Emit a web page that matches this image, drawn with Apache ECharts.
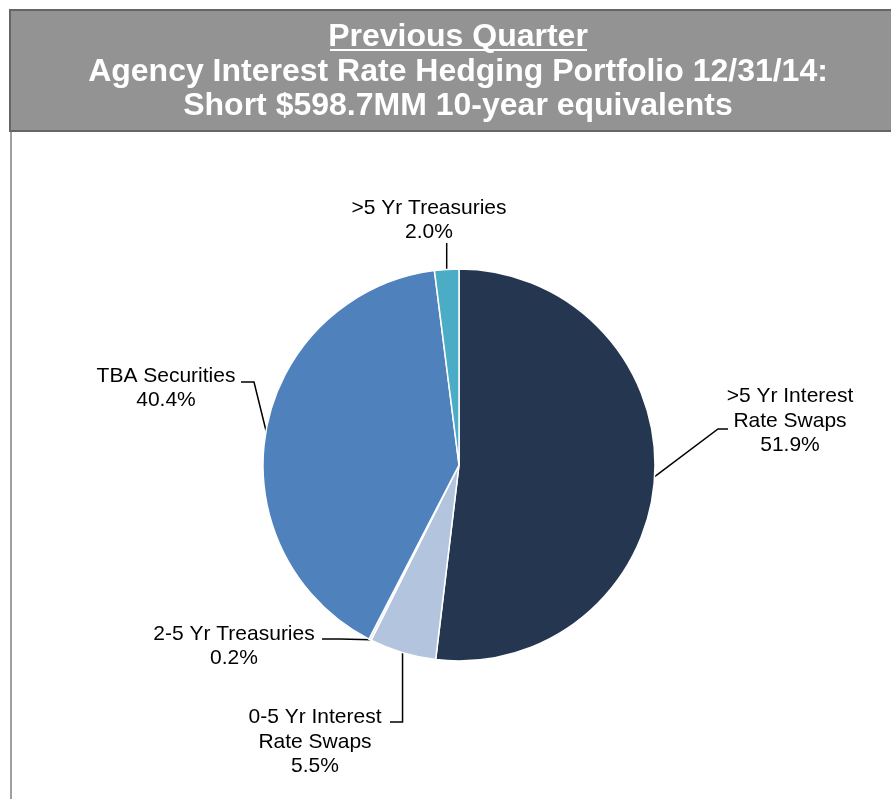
<!DOCTYPE html>
<html>
<head>
<meta charset="utf-8">
<script src="https://cdn.jsdelivr.net/npm/echarts@6/dist/echarts.min.js"></script>
<style>
html,body{margin:0;padding:0;background:#fff;}
#chart{width:891px;height:799px;}
</style>
</head>
<body>
<div id="chart"></div>
<script>
// ---- data ----
const categories = [
  '>5 Yr Interest\nRate Swaps',
  '0-5 Yr Interest\nRate Swaps',
  '2-5 Yr Treasuries',
  'TBA Securities',
  '>5 Yr Treasuries'
];
const values = [51.9, 5.5, 0.2, 40.4, 2.0];
const titleLines = [
  'Previous Quarter',
  'Agency Interest Rate Hedging Portfolio 12/31/14:',
  'Short $598.7MM 10-year equivalents'
];

// ---- styles ----
const colors = ['#253650', '#b3c5de', '#d6e0ee', '#4f81bd', '#4bacc6'];
// label placement (text centre, line bend point, line end point); vertical: bend shares the start x
const labelPlaces = [
  { x: 790, y: 421, bend: [718, 429], end: [728, 429] },
  { x: 315, y: 742, bend: [null, 722], end: [390, 722] },
  { x: 234, y: 646, bend: [340, 639], end: [322, 639] },
  { x: 166, y: 388, bend: [254, 382], end: [241, 382] },
  { x: 429, y: 220, bend: [null, 256], end: [null, 243] }
];

const chart = echarts.init(document.getElementById('chart'), null, { renderer: 'canvas' });

const option = {
  animation: false,
  backgroundColor: '#ffffff',
  graphic: [
    {
      type: 'rect', z: 1,
      shape: { x: 10, y: 10, width: 900, height: 121 },
      style: { fill: '#939393', stroke: '#666666', lineWidth: 2 }
    },
    {
      type: 'line', z: 1,
      shape: { x1: 11, y1: 132, x2: 11, y2: 799 },
      style: { stroke: '#a0a0a0', lineWidth: 2 }
    },
    {
      type: 'text', z: 2,
      style: {
        x: 458, y: 20,
        text: titleLines.join('\n'),
        fill: '#ffffff',
        font: 'bold 32px "Liberation Sans", Arial, sans-serif',
        lineHeight: 34.5,
        align: 'center',
        verticalAlign: 'top'
      }
    },
    {
      type: 'line', z: 2,
      shape: { x1: 330, y1: 50, x2: 587, y2: 50 },
      style: { stroke: '#ffffff', lineWidth: 2 }
    }
  ],
  series: [{
    type: 'pie',
    center: [459, 465],
    radius: 196,
    startAngle: 90,
    clockwise: true,
    avoidLabelOverlap: false,
    minAngle: 0,
    data: categories.map((c, i) => ({
      name: c,
      value: values[i],
      itemStyle: { color: colors[i] }
    })),
    itemStyle: { borderColor: '#ffffff', borderWidth: 1.5 },
    label: {
      show: true,
      position: 'outside',
      formatter: p => p.name + '\n' + p.value.toFixed(1) + '%',
      color: '#000000',
      fontFamily: '"Liberation Sans", Arial, sans-serif',
      fontSize: 21,
      lineHeight: 24.5,
      align: 'center'
    },
    labelLine: {
      show: true,
      length: 20,
      length2: 10,
      smooth: false,
      lineStyle: { color: '#000000', width: 1.5 }
    },
    labelLayout: function (params) {
      const p = labelPlaces[params.dataIndex];
      const start = params.labelLinePoints ? params.labelLinePoints[0] : [p.end[0], p.end[1]];
      const bx = p.bend[0] == null ? start[0] : p.bend[0];
      const ex = p.end[0] == null ? start[0] : p.end[0];
      return {
        x: p.x,
        y: p.y,
        align: 'center',
        verticalAlign: 'middle',
        labelLinePoints: [start, [bx, p.bend[1]], [ex, p.end[1]]]
      };
    },
    emphasis: { disabled: true }
  }]
};
chart.setOption(option);
</script>
</body>
</html>
